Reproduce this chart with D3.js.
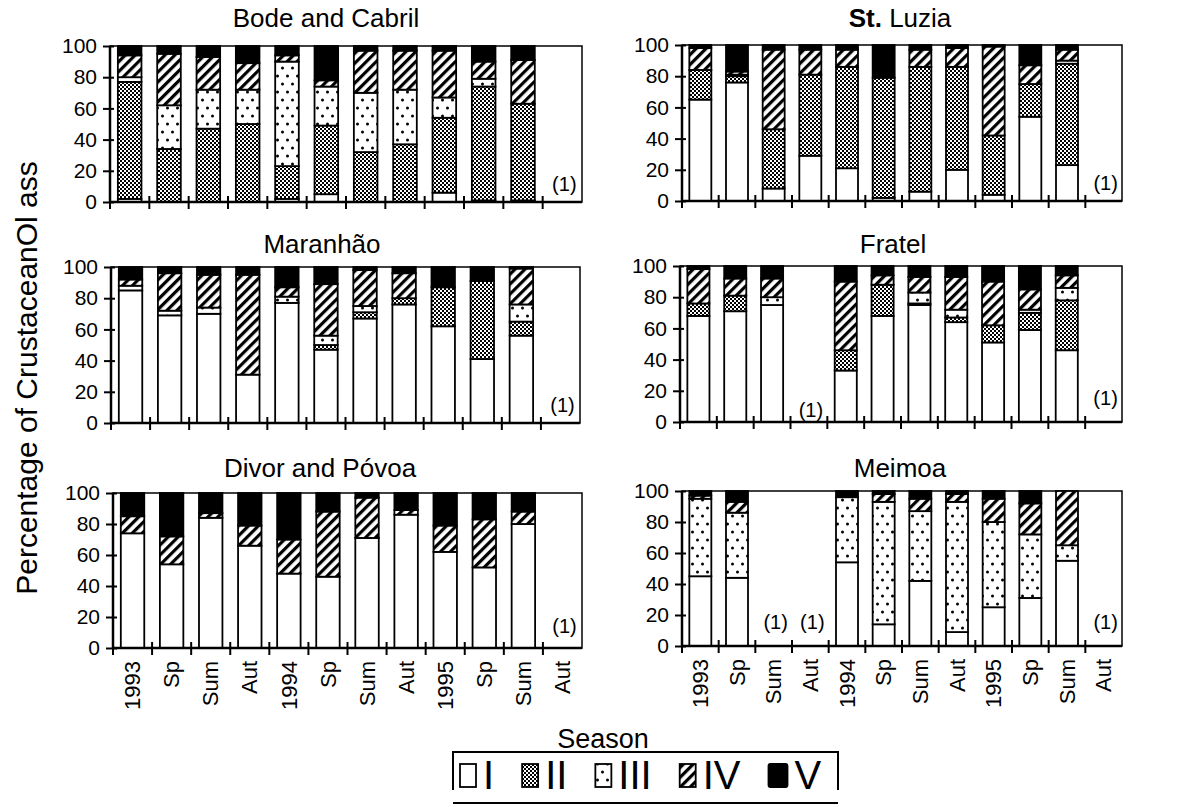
<!DOCTYPE html>
<html>
<head>
<meta charset="utf-8">
<script src="https://cdn.jsdelivr.net/npm/d3@7"></script>
<style>
  body { margin: 0; background: #fff; }
  svg { display: block; }
  text { font-family: "Liberation Sans", Arial, sans-serif; fill: #000; }
</style>
</head>
<body>
<svg id="chart" width="1195" height="807"></svg>
<script>
// seasons on the x axis, classes stacked in each bar
const seasons = ["1993", "Sp", "Sum", "Aut", "1994", "Sp", "Sum", "Aut", "1995", "Sp", "Sum", "Aut"];
const classes = ["I", "II", "III", "IV", "V"];
const yTicks = [0, 20, 40, 60, 80, 100];

// % of each class [I, II, III, IV, V] per season, null = no bar "(1)"
const bodeCabril = [
  [2, 75, 3, 14, 6], [0, 34, 28, 33, 5], [0, 47, 25, 21, 7], [0, 50, 22, 17, 11],
  [2, 21, 67, 4, 6], [5, 44, 25, 4, 22], [0, 32, 38, 27, 3], [0, 37, 35, 25, 3],
  [6, 48, 13, 30, 3], [1, 73, 5, 11, 10], [1, 62, 0, 28, 9], null
];
const stLuzia = [
  [65, 19, 0, 14, 2], [76, 4, 1, 2, 17], [8, 38, 0, 51, 3], [29, 52, 0, 16, 3],
  [21, 65, 0, 11, 3], [2, 77, 0, 0, 21], [6, 80, 0, 11, 3], [20, 66, 0, 12, 2],
  [4, 38, 0, 57, 1], [54, 21, 0, 12, 13], [23, 65, 2, 7, 3], null
];
const maranhao = [
  [85, 0, 3, 4, 8], [69, 0, 3, 24, 4], [70, 0, 4, 21, 5], [31, 0, 0, 64, 5],
  [77, 0, 4, 6, 13], [47, 3, 6, 33, 11], [67, 4, 4, 23, 2], [76, 4, 0, 16, 4],
  [62, 25, 0, 0, 13], [41, 50, 0, 0, 9], [56, 9, 11, 23, 1], null
];
const fratel = [
  [68, 8, 0, 22, 2], [71, 10, 0, 11, 8], [75, 0, 5, 12, 8], null,
  [33, 13, 0, 44, 10], [68, 20, 0, 6, 6], [75, 1, 7, 10, 7], [64, 3, 5, 21, 7],
  [51, 11, 0, 28, 10], [59, 11, 2, 13, 15], [46, 32, 8, 8, 6], null
];
const divorPovoa = [
  [74, 0, 0, 11, 15], [54, 0, 0, 18, 28], [84, 0, 0, 3, 13], [66, 0, 0, 13, 21],
  [48, 0, 0, 22, 30], [46, 0, 0, 42, 12], [71, 0, 0, 26, 3], [86, 0, 0, 3, 11],
  [62, 0, 0, 17, 21], [52, 0, 0, 31, 17], [80, 0, 0, 8, 12], null
];
const meimoa = [
  [45, 0, 50, 2, 3], [44, 0, 42, 7, 7], null, null,
  [54, 0, 42, 0, 4], [14, 0, 79, 5, 2], [42, 0, 45, 8, 5], [9, 0, 84, 5, 2],
  [25, 0, 55, 15, 5], [31, 0, 41, 20, 8], [55, 0, 10, 35, 0], null
];

// panel layout (pixels)
const panels = [
  { title: "Bode and Cabril", data: bodeCabril, left: 110, right: 582, top: 46, bottom: 202, tx: 326, ty: 27, notes: [[11, 7]] },
  { title: "St. Luzia", bold: "St.", data: stLuzia, left: 682, right: 1122, top: 45, bottom: 201, tx: 900, ty: 27, notes: [[11, 7]] },
  { title: "Maranhão", data: maranhao, left: 111, right: 580, top: 267, bottom: 423, tx: 322, ty: 253, notes: [[11, 7]] },
  { title: "Fratel", data: fratel, left: 680, right: 1122, top: 266, bottom: 422, tx: 893, ty: 253, notes: [[3, 3], [11, 11]] },
  { title: "Divor and Póvoa", data: divorPovoa, left: 113, right: 582, top: 493, bottom: 648, tx: 320, ty: 477, notes: [[11, 10]], labels: true },
  { title: "Meimoa", data: meimoa, left: 682, right: 1122, top: 491, bottom: 646, tx: 900, ty: 477, notes: [[2, 11], [3, 11], [11, 11]], labels: true }
];

const svg = d3.select("#chart");
const defs = svg.append("defs");

// II: fine checker
const p2 = defs.append("pattern").attr("id", "p2").attr("patternUnits", "userSpaceOnUse")
  .attr("width", 4).attr("height", 4);
p2.append("rect").attr("width", 4).attr("height", 4).attr("fill", "#fff");
p2.append("rect").attr("width", 2).attr("height", 2).attr("fill", "#000");
p2.append("rect").attr("x", 2).attr("y", 2).attr("width", 2).attr("height", 2).attr("fill", "#000");

// III: sparse dots
const p3 = defs.append("pattern").attr("id", "p3").attr("patternUnits", "userSpaceOnUse")
  .attr("width", 10).attr("height", 16);
p3.append("rect").attr("width", 10).attr("height", 16).attr("fill", "#fff");
p3.append("circle").attr("cx", 2.5).attr("cy", 4).attr("r", 1.5).attr("fill", "#000");
p3.append("circle").attr("cx", 7.5).attr("cy", 12).attr("r", 1.5).attr("fill", "#000");

// IV: diagonal hatch
const p4 = defs.append("pattern").attr("id", "p4").attr("patternUnits", "userSpaceOnUse")
  .attr("width", 7).attr("height", 7).attr("patternTransform", "rotate(45)");
p4.append("rect").attr("width", 7).attr("height", 7).attr("fill", "#fff");
p4.append("rect").attr("width", 3.2).attr("height", 7).attr("fill", "#000");

const fills = ["#fff", "url(#p2)", "url(#p3)", "url(#p4)", "#000"];

panels.forEach(p => {
  const x = d3.scaleBand().domain(d3.range(seasons.length))
    .range([p.left, p.right]).paddingInner(0.4).paddingOuter(0.2);
  const y = d3.scaleLinear().domain([0, 100]).range([p.bottom, p.top]);
  const g = svg.append("g");

  // plot frame
  g.append("rect")
    .attr("x", p.left).attr("y", y(100))
    .attr("width", p.right - p.left).attr("height", y(0) - y(100))
    .attr("fill", "#fff").attr("stroke", "#000").attr("stroke-width", 1.5);

  // stacked bars
  const rows = p.data.map((v, i) => v ? { i: i, v: v } : null).filter(d => d);
  const series = d3.stack().keys(d3.range(classes.length)).value((d, k) => d.v[k])(rows);
  g.selectAll("g.cls").data(series).join("g")
    .attr("class", "cls")
    .attr("fill", s => fills[s.key])
    .selectAll("rect")
    .data(s => s.filter(d => d[1] - d[0] > 0))
    .join("rect")
    .attr("x", d => x(d.data.i))
    .attr("width", x.bandwidth())
    .attr("y", d => y(d[1]))
    .attr("height", d => y(d[0]) - y(d[1]))
    .attr("stroke", "#000").attr("stroke-width", 1.8);

  // y axis
  const ya = g.append("g").attr("transform", "translate(" + p.left + ",0)")
    .call(d3.axisLeft(y).tickValues(yTicks).tickSize(7).tickPadding(6));
  ya.select(".domain").remove();
  ya.selectAll(".tick line").attr("x1", 4).attr("stroke-width", 2);
  ya.selectAll(".tick text").attr("font-size", 21).attr("font-family", "Liberation Sans, Arial, sans-serif");
  g.append("line").attr("x1", p.left).attr("x2", p.left)
    .attr("y1", y(100)).attr("y2", y(0)).attr("stroke", "#000").attr("stroke-width", 2.5);
  g.append("line").attr("x1", p.left).attr("x2", p.right)
    .attr("y1", y(0)).attr("y2", y(0)).attr("stroke", "#000").attr("stroke-width", 2.5);

  // x ticks at category boundaries
  const gapHalf = (x.step() - x.bandwidth()) / 2;
  g.selectAll("line.xt").data(d3.range(seasons.length)).join("line")
    .attr("class", "xt")
    .attr("x1", i => x(i) - gapHalf).attr("x2", i => x(i) - gapHalf)
    .attr("y1", y(0) - 6).attr("y2", y(0) + 7)
    .attr("stroke", "#000").attr("stroke-width", 2);

  if (p.labels) {
    g.selectAll("text.xl").data(seasons).join("text")
      .attr("class", "xl")
      .attr("transform", (d, i) => "translate(" + (x(i) + x.bandwidth() / 2) + "," + (y(0) + 13) + ") rotate(-90)")
      .attr("text-anchor", "end").attr("dy", "0.35em")
      .attr("font-size", 22)
      .text(d => d);
  }

  // "(1)" notes on empty seasons
  g.selectAll("text.note").data(p.notes).join("text")
    .attr("class", "note")
    .attr("x", d => x(d[0]) + x.bandwidth() / 2 + 2)
    .attr("y", d => y(d[1]))
    .attr("text-anchor", "middle").attr("font-size", 20)
    .text("(1)");

  // title
  const t = svg.append("text")
    .attr("x", p.tx).attr("y", p.ty)
    .attr("text-anchor", "middle").attr("font-size", 26);
  if (p.bold) {
    t.append("tspan").attr("font-weight", "bold").text(p.bold);
    t.append("tspan").text(p.title.slice(p.bold.length));
  } else {
    t.text(p.title);
  }
});

// axis titles
svg.append("text")
  .attr("transform", "translate(37,378) rotate(-90)")
  .attr("text-anchor", "middle").attr("font-size", 30)
  .text("Percentage of CrustaceanOl ass");
svg.append("text")
  .attr("x", 603).attr("y", 748)
  .attr("text-anchor", "middle").attr("font-size", 27)
  .text("Season");

// legend
const lg = svg.append("g");
lg.append("path").attr("d", "M453,790 V752 H838 V790")
  .attr("fill", "none").attr("stroke", "#000").attr("stroke-width", 2);
lg.append("line").attr("x1", 453).attr("x2", 838).attr("y1", 803).attr("y2", 803)
  .attr("stroke", "#000").attr("stroke-width", 2);
let lx = 460;
classes.forEach((c, k) => {
  const w = k === 4 ? 19 : 16;
  lg.append("rect").attr("x", lx).attr("y", 764).attr("width", w).attr("height", 23)
    .attr("rx", k === 4 ? 2 : 0)
    .attr("fill", fills[k]).attr("stroke", "#000").attr("stroke-width", 1.8);
  lx += w + 7;
  const tx = lg.append("text").attr("x", lx).attr("y", 789).attr("font-size", 40).text(c);
  lx += tx.node().getComputedTextLength() + 28;
});
</script>
</body>
</html>
